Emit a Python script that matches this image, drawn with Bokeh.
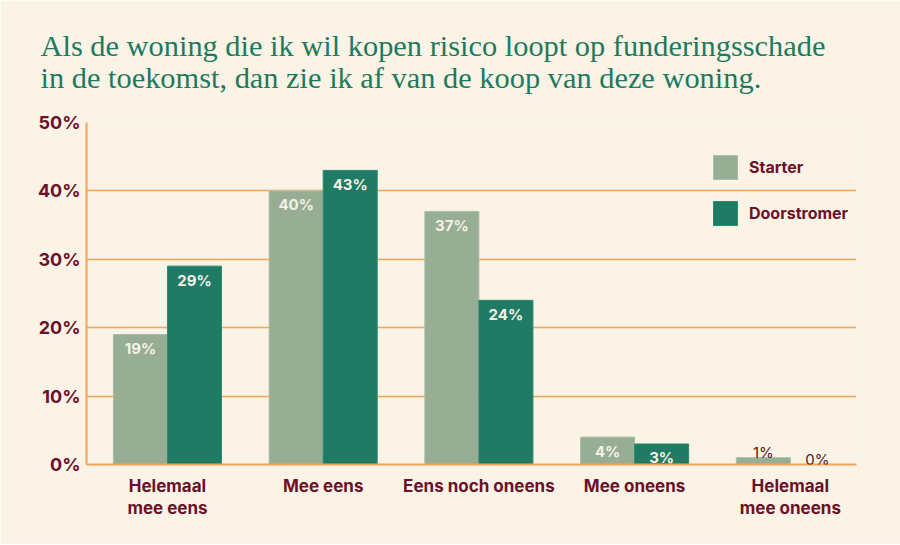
from bokeh.plotting import figure
from bokeh.models import (ColumnDataSource, Range1d, FixedTicker, LabelSet, Legend,
                          LegendItem, Title)
from bokeh.core.properties import value
from bokeh.embed import file_html
from bokeh.resources import INLINE

# ---- data ----
categories = ["Helemaal\nmee eens", "Mee eens", "Eens noch oneens", "Mee oneens",
              "Helemaal\nmee oneens"]
starter = [19, 40, 37, 4, 1]
doorstromer = [29, 43, 24, 3, 0]
series_names = ["Starter", "Doorstromer"]
y_ticks = [0, 10, 20, 30, 40, 50]
y_tick_labels = ["0%", "10%", "20%", "30%", "40%", "50%"]
title_text = ("Als de woning die ik wil kopen risico loopt op funderingsschade\n"
              "in de toekomst, dan zie ik af van de koop van deze woning.")

# ---- styles ----
BG = "#faf3e6"
C_START = "#97ae94"
C_DOOR = "#1f7b64"
GRID = "#f6a455"
TXT = "#6b1028"
TITLE_C = "#1e7a5c"
LABEL_IN = "#f6f1e6"
LABEL_OUT = "#4a1a25"
SANS = "Inter"
BAR_W = 0.347
SHIFT = BAR_W / 2

idx = list(range(len(categories)))

p = figure(frame_width=770, frame_height=342,
           x_range=Range1d(-0.52, 4.425), y_range=Range1d(0, 50),
           output_backend="svg", toolbar_location=None,
           min_border_left=86, min_border_right=44, min_border_bottom=80,
           min_border_top=122)
p.background_fill_color = BG
p.border_fill_color = BG
p.outline_line_color = None

t1 = Title(text=title_text, text_font="Liberation Serif", text_font_size="30.4px",
           text_font_style="normal", text_color=TITLE_C, align="left", offset=-46,
           standoff=50, text_line_height=0.97, vertical_align="top")
p.add_layout(t1, "above")

src_s = ColumnDataSource(dict(x=[i - SHIFT for i in idx], top=starter))
src_d = ColumnDataSource(dict(x=[i + SHIFT for i in idx], top=doorstromer))

r_s = p.vbar(x="x", top="top", width=BAR_W, source=src_s, fill_color=C_START,
             line_color="#a9bda6", line_width=1)
r_d = p.vbar(x="x", top="top", width=BAR_W, source=src_d, fill_color=C_DOOR,
             line_color="#2a8a70", line_width=1)

# labels: inside for large values, above for tiny ones
xs_in, ys_in, lab_in, xs_out, ys_out, lab_out = [], [], [], [], [], []
for xs, vals in ((src_s.data["x"], starter), (src_d.data["x"], doorstromer)):
    for x, v in zip(xs, vals):
        if v >= 3:
            xs_in.append(x); ys_in.append(v); lab_in.append(f"{v}%")
        else:
            xs_out.append(x); ys_out.append(v); lab_out.append(f"{v}%")

p.add_layout(LabelSet(x="x", y="y", text="t",
                      source=ColumnDataSource(dict(x=xs_in, y=ys_in, t=lab_in)),
                      text_align="center", text_baseline="middle", y_offset=-14,
                      text_color=LABEL_IN, text_font=value(SANS),
                      text_font_style="bold", text_font_size="15px"))
p.add_layout(LabelSet(x="x", y="y", text="t",
                      source=ColumnDataSource(dict(x=xs_out, y=ys_out, t=lab_out)),
                      text_align="center", text_baseline="alphabetic", y_offset=0,
                      text_color=LABEL_OUT, text_font=value(SANS),
                      text_font_style="normal", text_font_size="15px"))

# axes
p.yaxis.ticker = FixedTicker(ticks=y_ticks)
p.yaxis.major_label_overrides = {t: l for t, l in zip(y_ticks, y_tick_labels)}
p.yaxis.major_label_text_font = SANS
p.yaxis.major_label_text_font_style = "bold"
p.yaxis.major_label_text_font_size = "18px"
p.yaxis.major_label_text_color = TXT
p.yaxis.major_label_text_baseline = "alphabetic"
p.yaxis.major_label_standoff = 0
p.yaxis.major_tick_line_color = None
p.yaxis.minor_tick_line_color = None
p.yaxis.axis_line_color = GRID
p.yaxis.axis_line_width = 2

p.xaxis.ticker = FixedTicker(ticks=idx)
p.xaxis.major_label_overrides = {i: c for i, c in zip(idx, categories)}
p.xaxis.major_label_text_font = SANS
p.xaxis.major_label_text_font_style = "bold"
p.xaxis.major_label_text_font_size = "17px"
p.xaxis.major_label_text_color = TXT
p.xaxis.major_label_text_line_height = 1.1
p.xaxis.major_label_standoff = 5
p.xaxis.major_tick_line_color = None
p.xaxis.minor_tick_line_color = None
p.xaxis.axis_line_color = GRID
p.xaxis.axis_line_width = 2

p.xgrid.grid_line_color = None
p.ygrid.ticker = FixedTicker(ticks=y_ticks)
p.ygrid.grid_line_color = GRID
p.ygrid.grid_line_width = 1.5

legend = Legend(items=[LegendItem(label=series_names[0], renderers=[r_s]),
                       LegendItem(label=series_names[1], renderers=[r_d])],
                location=(624, 236), orientation="vertical",
                glyph_width=30, glyph_height=30, label_standoff=9, spacing=16,
                padding=0, margin=0, border_line_color=None,
                background_fill_alpha=0,
                label_text_font=SANS, label_text_font_style="bold",
                label_text_font_size="16px", label_text_color=TXT)
p.add_layout(legend)

open("out.html", "w").write(file_html(p, INLINE))
